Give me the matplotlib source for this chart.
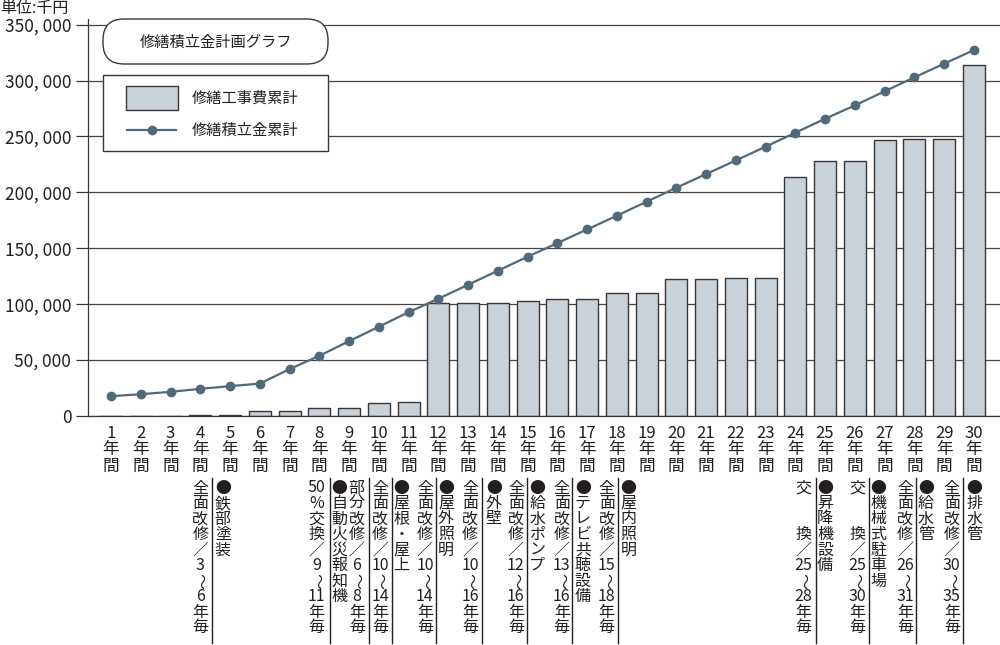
import re
import matplotlib
matplotlib.use("Agg")
import matplotlib.pyplot as plt
from matplotlib import transforms
from matplotlib.patches import Rectangle, FancyBboxPatch
from matplotlib.lines import Line2D
from matplotlib.ticker import FuncFormatter

plt.rcParams['font.family'] = ['Noto Sans CJK JP', 'DejaVu Sans']

# データ（単位：千円）
years = list(range(1, 31))
repair_cum = [0, 0, 0, 1000, 1000, 4600, 4600, 7600, 7600, 12000,
              12700, 101200, 101200, 101200, 102400, 104800, 104800, 110200, 110200, 122400,
              122400, 123000, 123600, 213300, 228300, 228300, 247000, 247500, 247500, 313800]
reserve_cum = [17700, 19500, 21600, 24300, 26700, 29000, 41900, 53800, 66900, 79800,
               92800, 104800, 117300, 129900, 142400, 154600, 166800, 179100, 191600, 204100,
               216300, 228500, 240800, 253300, 265800, 277700, 290300, 302800, 315000, 327200]
yticks = [0, 50000, 100000, 150000, 200000, 250000, 300000, 350000]

# 下の注記（x は年の位置）
note_x = [4.0, 4.76, 7.91, 8.67, 9.26, 10.04, 10.77, 11.55, 12.26, 13.07,
          13.87, 14.61, 15.33, 16.15, 16.86, 17.66, 18.39,
          24.27, 25.0, 26.08, 26.79, 27.69, 28.39, 29.26, 30.01]
note_text = ["全面改修／3〜6年毎", "●鉄部塗装", "50%交換／9〜11年毎", "●自動火災報知機",
             "部分改修／6〜8年毎", "全面改修／10〜14年毎", "●屋根・屋上", "全面改修／10〜14年毎",
             "●屋外照明", "全面改修／10〜16年毎", "●外壁", "全面改修／12〜16年毎",
             "●給水ポンプ", "全面改修／13〜16年毎", "●テレビ共聴設備", "全面改修／15〜18年毎",
             "●屋内照明", "交　　換／25〜28年毎", "●昇降機設備", "交　　換／25〜30年毎",
             "●機械式駐車場", "全面改修／26〜31年毎", "●給水管", "全面改修／30〜35年毎", "●排水管"]
divider_x = [4.40, 8.36, 9.68, 10.43, 11.94, 13.47, 14.99, 16.51, 18.04,
             24.69, 26.48, 28.05, 29.65]

bar_color = '#c8d2d8'
edge_color = '#3d3535'
line_color = '#4f6b7a'
grid_color = '#4a4242'
text_color = '#231f20'

W, H = 1000, 645
fig = plt.figure(figsize=(W / 100, H / 100), dpi=100)
ax = fig.add_axes([0.088, 1 - 416 / H, 1 - 0.088, (416 - 19) / H])

ax.bar(years, repair_cum, width=0.74, color=bar_color, edgecolor=edge_color,
       linewidth=1.0, zorder=2)
ax.plot(years, reserve_cum, color=line_color, linewidth=1.6, marker='o',
        markersize=6, zorder=3)

ax.set_xlim(0.227, 30.88)
ax.set_ylim(0, 355000)
ax.set_yticks(yticks)
ax.yaxis.set_major_formatter(FuncFormatter(
    lambda v, p: "0" if v == 0 else f"{v:,.0f}".replace(",", ", ")))
ax.tick_params(axis='y', direction='out', length=8.5, width=0.9, color=edge_color,
               pad=3.5, labelsize=12.5, labelcolor=text_color)
ax.set_xticks(years)
ax.set_xticklabels([])
ax.tick_params(axis='x', length=0)
ax.grid(axis='y', color=grid_color, linewidth=0.9)
ax.set_axisbelow(True)
for s in ['top', 'right']:
    ax.spines[s].set_visible(False)
for s in ['left', 'bottom']:
    ax.spines[s].set_color(edge_color)
    ax.spines[s].set_linewidth(0.9)

# ピクセル座標（左上原点）
pix = transforms.Affine2D().scale(1, -1).translate(0, H)
xpix = transforms.blended_transform_factory(ax.transData, pix)


def vtext(x, y0, pitch, s, size=11.5):
    for i, tok in enumerate(re.findall(r"\d+|.", s)):
        if tok == "　":
            continue
        rot = -90 if tok == "〜" else 0
        ax.text(x, y0 + i * pitch, tok, transform=xpix, ha='center', va='center',
                fontsize=size, rotation=rot, color=text_color, clip_on=False)


# 年ラベル
for y in years:
    vtext(y, 433, 16.5, f"{y}年間", size=12)

# 注記
for x, t in zip(note_x, note_text):
    vtext(x, 488, 15.5, t)
for x in divider_x:
    ax.add_line(Line2D([x, x], [478, 643], transform=xpix, color=text_color,
                       linewidth=1.0, clip_on=False))

# 単位
fig.text(0, 8, "単位:千円", transform=pix, ha='left', va='center', fontsize=11.5,
         color=text_color)

# タイトル枠
fig.add_artist(FancyBboxPatch((103, 19), 225, 45, boxstyle="round,pad=0,rounding_size=21",
                              transform=pix, facecolor='white', edgecolor=edge_color,
                              linewidth=1.0))
fig.text(215.5, 42, "修繕積立金計画グラフ", transform=pix, ha='center', va='center',
         fontsize=11, color=text_color)

# 凡例
fig.add_artist(Rectangle((103, 75), 225, 76, transform=pix, facecolor='white',
                         edgecolor=edge_color, linewidth=1.0))
fig.add_artist(Rectangle((126, 86), 52, 24, transform=pix, facecolor=bar_color,
                         edgecolor=edge_color, linewidth=1.0))
fig.add_artist(Line2D([127, 176], [130, 130], transform=pix, color=line_color,
                      linewidth=1.6))
fig.add_artist(Line2D([151.5], [130], transform=pix, color=line_color, marker='o',
                      markersize=6))
fig.text(192, 98, "修繕工事費累計", transform=pix, ha='left', va='center',
         fontsize=11, color=text_color)
fig.text(192, 130, "修繕積立金累計", transform=pix, ha='left', va='center',
         fontsize=11, color=text_color)

fig.savefig("out.png", dpi=100)
